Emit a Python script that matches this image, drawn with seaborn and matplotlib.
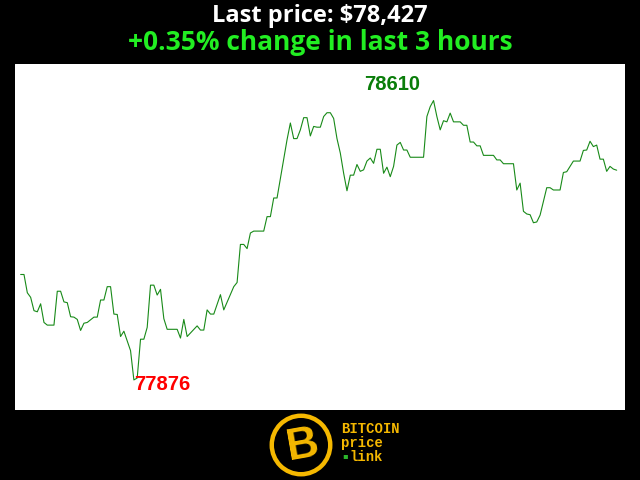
import numpy as np
import pandas as pd
import seaborn as sns
import matplotlib.pyplot as plt
from matplotlib.patches import Circle

# minutes since start of the 3 hour window, and price at that minute
minutes = [0, 1, 2, 3, 4, 5, 6, 7, 8, 10, 11, 12, 13, 14, 15, 16, 17, 18, 19, 20,
           22, 23, 24, 25, 26, 27, 28, 29, 30, 31, 33, 34, 35, 36, 37, 38, 39, 40,
           41, 42, 43, 44, 47, 48, 49, 50, 53, 54, 55, 56, 57, 58, 60, 61, 64, 65,
           66, 67, 68, 69, 70, 73, 74, 75, 76, 77, 78, 80, 81, 82, 83, 84, 85, 86,
           87, 88, 89, 90, 91, 92, 93, 94, 95, 96, 97, 98, 99, 100, 101, 102, 103,
           104, 105, 106, 107, 108, 109, 110, 111, 112, 113, 114, 115, 116, 117,
           121, 122, 123, 124, 125, 126, 127, 128, 129, 130, 132, 133, 134, 135,
           136, 137, 138, 139, 142, 143, 144, 145, 148, 149, 150, 151, 152, 153,
           154, 155, 156, 158, 159, 160, 162, 163, 164, 166, 168, 169, 170, 171,
           172, 173, 174, 175, 176, 177, 178, 179]
prices = [78153, 78153, 78105, 78093, 78058, 78055, 78076, 78027, 78020, 78020,
          78109, 78109, 78081, 78079, 78042, 78041, 78035, 78006, 78025, 78027,
          78041, 78041, 78086, 78086, 78121, 78121, 78049, 78048, 77990, 78004,
          77953, 77876, 77881, 77983, 77983, 78014, 78125, 78125, 78099, 78114,
          78037, 78009, 78009, 77986, 78035, 77990, 78018, 78007, 78007, 78060,
          78049, 78049, 78100, 78060, 78121, 78132, 78232, 78232, 78221, 78262,
          78267, 78267, 78305, 78305, 78354, 78354, 78405, 78507, 78551, 78510,
          78510, 78533, 78565, 78565, 78517, 78542, 78540, 78540, 78568, 78578,
          78578, 78563, 78510, 78472, 78419, 78373, 78414, 78414, 78442, 78424,
          78428, 78451, 78459, 78445, 78482, 78482, 78419, 78435, 78410, 78437,
          78493, 78500, 78480, 78480, 78461, 78461, 78568, 78594, 78610, 78568,
          78533, 78557, 78554, 78577, 78554, 78554, 78545, 78545, 78501, 78501,
          78491, 78491, 78466, 78466, 78454, 78454, 78444, 78444, 78375, 78393,
          78319, 78312, 78310, 78289, 78291, 78309, 78381, 78381, 78375, 78375,
          78421, 78423, 78451, 78451, 78479, 78480, 78503, 78489, 78493, 78456,
          78456, 78424, 78437, 78430, 78427]

title_price = "Last price: $78,427"
title_change = "+0.35% change in last 3 hours"

df = pd.DataFrame({"minute": minutes, "price": prices})

sns.set_style("white")
plt.rcParams['font.family'] = ['Open Sans', 'DejaVu Sans']

fig = plt.figure(figsize=(6.4, 4.8), dpi=100, facecolor="black")
ax = fig.add_axes([15 / 640, 70 / 480, 610 / 640, 346 / 480])
sns.lineplot(data=df, x="minute", y="price", ax=ax, color="#188a18", linewidth=0.8)
ax.set_xlim(-1.7, 181.5)
ax.set_ylim(77797, 78706)
ax.set_axis_off()
ax.add_patch(plt.Rectangle((0, 0), 1, 1, transform=ax.transAxes, color="white", zorder=0))

# max / min labels
imax = int(np.argmax(prices))
imin = int(np.argmin(prices))
ax.annotate(str(prices[imax]), (minutes[imax], prices[imax]), xytext=(-10, 5),
            textcoords="offset points", ha="right", va="bottom", color="#0a7d0a",
            fontsize=14.5, fontweight="bold", family="Liberation Sans")
ax.annotate(str(prices[imin]), (minutes[imin], prices[imin]), xytext=(0, -3),
            textcoords="offset points", ha="left", va="center", color="#ff0000",
            fontsize=14.5, fontweight="bold", family="Liberation Sans")

fig.text(0.5, 1 - 16 / 480, title_price, color="white", fontsize=17,
         fontweight="bold", ha="center", va="center")
fig.text(0.5, 1 - 43 / 480, title_change, color="#22ee22", fontsize=19,
         fontweight="bold", ha="center", va="center")

# logo
lx, ly = 301 / 640, 1 - 445 / 480
logo = fig.add_axes([lx - 34 / 640, ly - 34 / 480, 68 / 640, 68 / 480])
logo.set_xlim(-1, 1)
logo.set_ylim(-1, 1)
logo.set_aspect("equal")
logo.set_axis_off()
logo.add_patch(Circle((0, 0), 0.86, fill=False, edgecolor="#f5b800", linewidth=3.2))
logo.text(0.04, -0.02, "B", color="#f5b800", fontsize=32, fontweight="bold",
          ha="center", va="center", family="Liberation Sans", rotation=10)

for txt, x, y in [("BITCOIN", 341, 429), ("price", 341, 443), ("link", 349, 457)]:
    fig.text(x / 640, 1 - y / 480, txt, color="#f5b800", fontsize=10,
             fontweight="bold", family="Liberation Mono", ha="left", va="center")
fig.text(345 / 640, 1 - 457 / 480, "\u25aa", color="#2bb52b", fontsize=6,
         ha="center", va="center")

fig.savefig("out.png", dpi=100, facecolor="black")
